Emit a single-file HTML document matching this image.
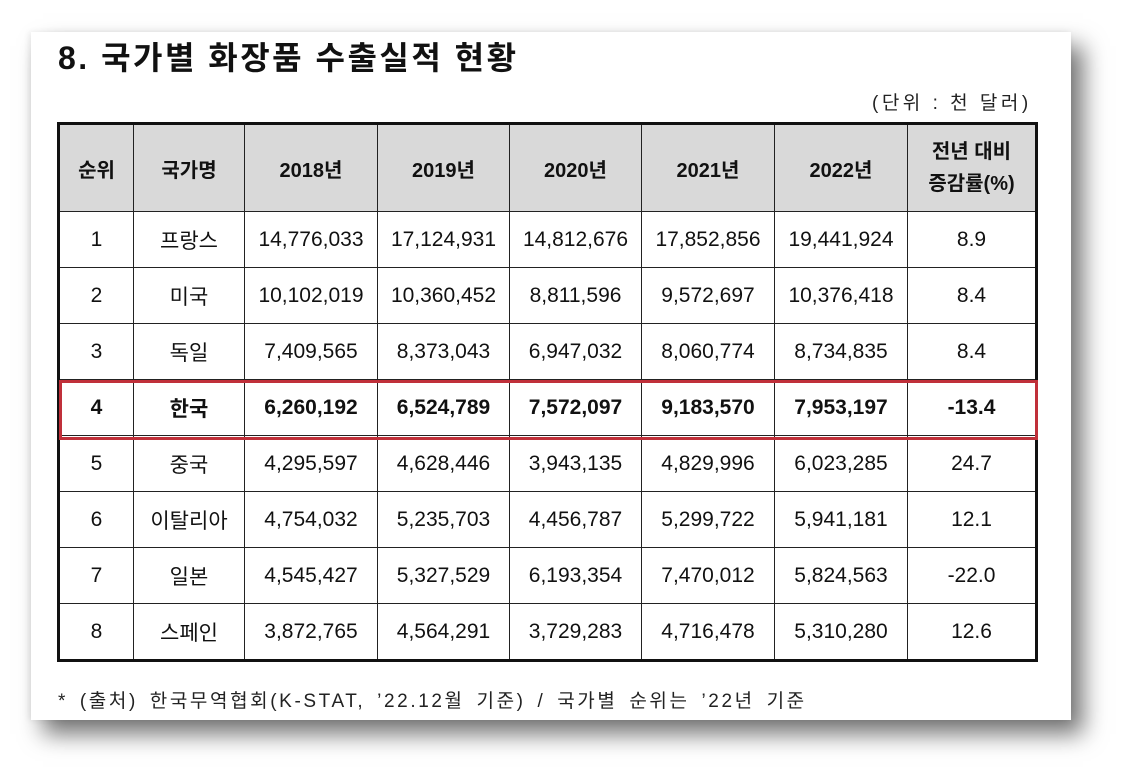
<!DOCTYPE html>
<html><head><meta charset="utf-8"><style>
body{margin:0;width:1134px;height:782px;background:#fff;overflow:hidden;font-family:"Liberation Sans","Noto Sans CJK KR",sans-serif;position:relative}
.card{position:absolute;left:31px;top:32px;width:1040px;height:688px;background:#fff;box-shadow:12px 14px 22px rgba(0,0,0,0.55),-2px 0 6px rgba(0,0,0,0.08)}
.title{position:absolute;left:58px;top:33px;font-size:32px;font-weight:bold;color:#111;letter-spacing:2.5px;white-space:nowrap}
.unit{position:absolute;left:872px;top:88px;font-size:19px;color:#222;letter-spacing:3.5px;white-space:nowrap}
table{position:absolute;left:57px;top:122px;border-collapse:collapse;border:3px solid #111}
td,th{border:1.5px solid #222;text-align:center;font-size:21px;color:#111;padding:0}
th{background:#d9d9d9;height:86px;font-weight:bold;font-size:20px}
td{height:55px}
tr.hl td{font-weight:bold}
.hlbox{position:absolute;left:59px;top:380px;width:973px;height:54px;border:3px solid #c0303a}
.foot{position:absolute;left:58px;top:686px;font-size:19px;color:#222;letter-spacing:2.6px;word-spacing:4px;white-space:nowrap}
</style></head><body>
<div class="card"></div>
<div class="title">8. 국가별 화장품 수출실적 현황</div>
<div class="unit">(단위 : 천 달러)</div>
<table>
<colgroup><col style="width:75px"><col style="width:111px"><col style="width:133px"><col style="width:132px"><col style="width:132px"><col style="width:133px"><col style="width:133px"><col style="width:129px"></colgroup>
<tr><th>순위</th><th>국가명</th><th>2018년</th><th>2019년</th><th>2020년</th><th>2021년</th><th>2022년</th><th style="line-height:32px">전년 대비<br>증감률(%)</th></tr>
<tr><td>1</td><td>프랑스</td><td>14,776,033</td><td>17,124,931</td><td>14,812,676</td><td>17,852,856</td><td>19,441,924</td><td>8.9</td></tr>
<tr><td>2</td><td>미국</td><td>10,102,019</td><td>10,360,452</td><td>8,811,596</td><td>9,572,697</td><td>10,376,418</td><td>8.4</td></tr>
<tr><td>3</td><td>독일</td><td>7,409,565</td><td>8,373,043</td><td>6,947,032</td><td>8,060,774</td><td>8,734,835</td><td>8.4</td></tr>
<tr class="hl"><td>4</td><td>한국</td><td>6,260,192</td><td>6,524,789</td><td>7,572,097</td><td>9,183,570</td><td>7,953,197</td><td>-13.4</td></tr>
<tr><td>5</td><td>중국</td><td>4,295,597</td><td>4,628,446</td><td>3,943,135</td><td>4,829,996</td><td>6,023,285</td><td>24.7</td></tr>
<tr><td>6</td><td>이탈리아</td><td>4,754,032</td><td>5,235,703</td><td>4,456,787</td><td>5,299,722</td><td>5,941,181</td><td>12.1</td></tr>
<tr><td>7</td><td>일본</td><td>4,545,427</td><td>5,327,529</td><td>6,193,354</td><td>7,470,012</td><td>5,824,563</td><td>-22.0</td></tr>
<tr><td>8</td><td>스페인</td><td>3,872,765</td><td>4,564,291</td><td>3,729,283</td><td>4,716,478</td><td>5,310,280</td><td>12.6</td></tr>
</table>
<div class="hlbox"></div>
<div class="foot">* (출처) 한국무역협회(K-STAT, ’22.12월 기준) / 국가별 순위는 ’22년 기준</div>
</body></html>
